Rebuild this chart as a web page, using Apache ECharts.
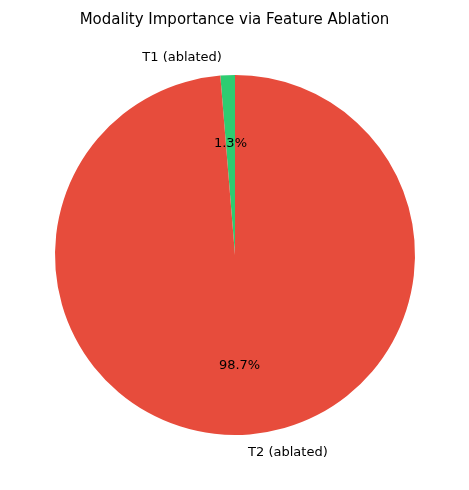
<!DOCTYPE html>
<html>
<head>
<meta charset="utf-8">
<script src="https://cdn.jsdelivr.net/npm/echarts@6/dist/echarts.min.js"></script>
<style>html,body{margin:0;padding:0;background:#fff}#main{width:469px;height:490px}</style>
</head>
<body>
<div id="main"></div>
<script>
var labels = ['T1 (ablated)', 'T2 (ablated)'];
var shares = [1.3, 98.7];
var colors = ['#2ecc71', '#e74c3c'];

var pieData = labels.map(function(name, i){
  return {name: name, value: shares[i], itemStyle: {color: colors[i]}};
});
var pctData = labels.map(function(name, i){
  return {name: name, value: shares[i]};
});

var myChart = echarts.init(document.getElementById('main'));
myChart.setOption({
  animation: false,
  title: {
    text: 'Modality Importance via Feature Ablation',
    left: 'center', top: 8,
    textStyle: {fontFamily: 'DejaVu Sans', fontSize: 15, fontWeight: 'normal', color: '#000'}
  },
  series: [
    {
      type: 'pie',
      center: [235, 255],
      radius: [0, 180],
      startAngle: 90,
      clockwise: false,
      data: pieData,
      label: {
        position: 'outside',
        fontFamily: 'DejaVu Sans', fontSize: 13, color: '#000',
        formatter: '{b}'
      },
      labelLine: {show: false, length: 18, length2: 0},
      emphasis: {disabled: true}
    },
    {
      type: 'pie',
      center: [235, 255],
      radius: [0, 216],
      startAngle: 90,
      clockwise: false,
      silent: true,
      data: pctData,
      itemStyle: {color: 'rgba(0,0,0,0)'},
      label: {
        position: 'inside',
        fontFamily: 'DejaVu Sans', fontSize: 13, color: '#000',
        formatter: function(p){ return p.value.toFixed(1) + '%'; }
      },
      labelLine: {show: false}
    }
  ]
});
</script>
</body>
</html>
